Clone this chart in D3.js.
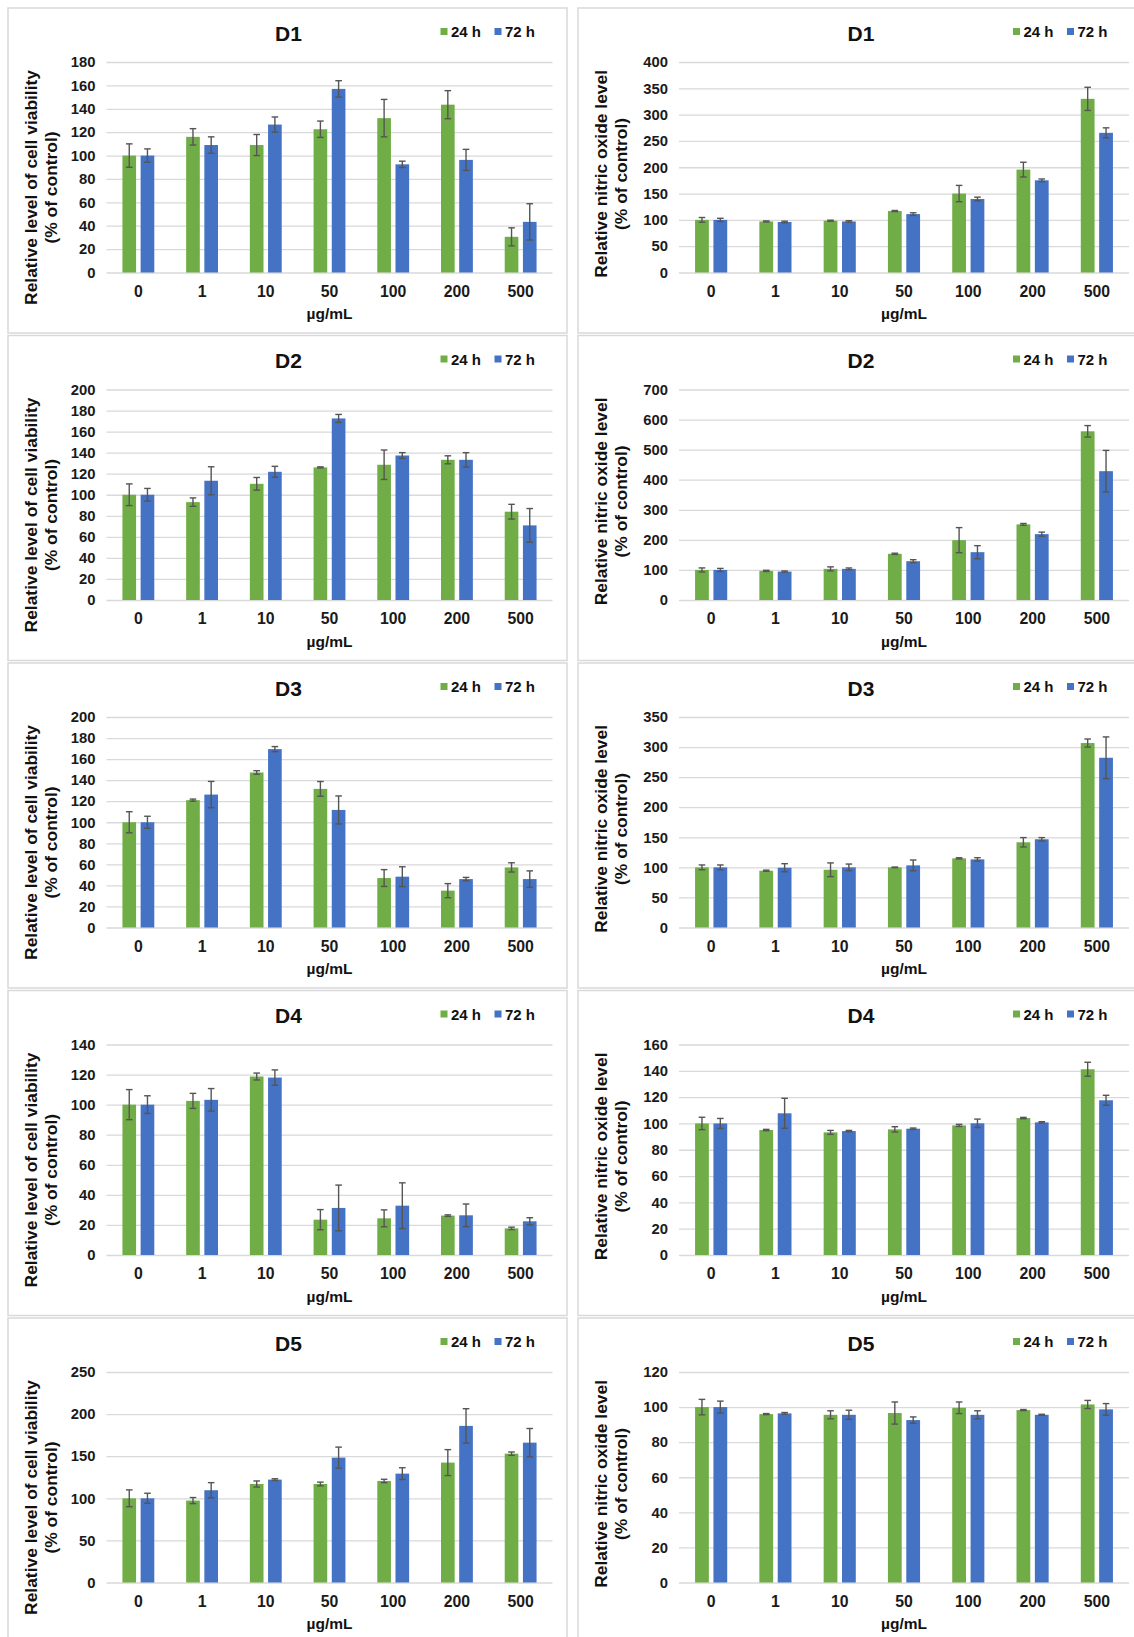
<!DOCTYPE html>
<html>
<head>
<meta charset="utf-8">
<script src="https://cdn.jsdelivr.net/npm/d3@7"></script>
<style>
  body { margin: 0; background: #fff; }
  svg { display: block; font-family: Arial, "Liberation Sans", sans-serif; font-weight: bold; }
</style>
</head>
<body>
<svg id="fig" width="1134" height="1637"></svg>
<script>
// categories & series
const doses = ["0", "1", "10", "50", "100", "200", "500"];
const times = ["24 h", "72 h"];
const colors = ["#70AD47", "#4472C4"];

// cell viability (left column), mean and error
const viabD1_24 = [100, 116, 109, 122.5, 132, 143.5, 30.5];
const viabD1_24err = [10, 7, 9, 7, 16, 12, 7.7];
const viabD1_72 = [100, 109, 126.5, 157, 92.5, 96.3, 43.3];
const viabD1_72err = [5.7, 7, 6.5, 7, 2.7, 9, 15.5];

const viabD2_24 = [100, 93, 110.4, 126, 128.5, 133.2, 83.9];
const viabD2_24err = [10.3, 4, 6, 0.5, 14, 3.8, 7];
const viabD2_72 = [100, 113.3, 121.8, 172.5, 137.3, 133.2, 70.9];
const viabD2_72err = [6, 13.3, 5.2, 3.8, 2.7, 6.8, 16];

const viabD3_24 = [100, 121, 147.3, 131.7, 47, 35, 57.1];
const viabD3_24err = [10, 1, 1.7, 7, 8, 6.7, 4.4];
const viabD3_72 = [100, 126.3, 169.5, 111.7, 48.3, 46, 46];
const viabD3_72err = [5.7, 12.5, 2.4, 13.3, 9.4, 1.6, 7.8];

const viabD4_24 = [100, 102.5, 118.7, 23.5, 24.4, 26.2, 17.7];
const viabD4_24err = [10, 5, 2.3, 6.7, 5.6, 0.5, 0.8];
const viabD4_72 = [100, 103.2, 118, 31.3, 32.8, 26.4, 22.4];
const viabD4_72err = [5.9, 7.5, 5.1, 15.2, 15.2, 7.5, 2.4];

const viabD5_24 = [100, 97.3, 117, 117, 120.6, 142.4, 153];
const viabD5_24err = [10, 3.6, 3.6, 2.2, 2, 15.4, 2];
const viabD5_72 = [100, 109.6, 122.2, 148.3, 129.3, 186, 166.1];
const viabD5_72err = [6, 9, 1, 12.5, 7, 20.4, 16.8];

// nitric oxide (right column), mean and error
const noD1_24 = [100, 97, 98.4, 116.8, 150, 195.5, 330];
const noD1_24err = [4.5, 1, 1, 1, 15.5, 14, 22];
const noD1_72 = [100, 96, 97, 111, 139.7, 175.2, 265.4];
const noD1_72err = [3, 1.5, 1.5, 2.5, 3.5, 2.5, 9.5];

const noD2_24 = [100, 96.8, 103.5, 153.6, 199, 251.5, 561];
const noD2_24err = [6.7, 2, 6.7, 2, 41.7, 3, 19];
const noD2_72 = [100, 94.6, 103.5, 129, 159, 219, 428.4];
const noD2_72err = [5, 2, 3, 5, 21.7, 6.7, 69];

const noD3_24 = [100, 94.4, 96, 100, 115, 141.7, 306.7];
const noD3_24err = [4, 1, 11.4, 0.5, 1, 7.8, 6.7];
const noD3_72 = [100, 99.4, 100, 103.3, 113.3, 146.7, 282.2];
const noD3_72err = [4, 6.7, 5.5, 8.9, 2.8, 2.8, 34.7];

const noD4_24 = [100, 95, 93.2, 95.5, 98.5, 104.1, 141.2];
const noD4_24err = [4.7, 0.5, 1.5, 2, 0.8, 0.5, 5.3];
const noD4_72 = [100, 107.7, 94.2, 96, 100.1, 100.8, 117.6];
const noD4_72err = [3.8, 11.4, 0.5, 0.5, 3.2, 0.5, 3.8];

const noD5_24 = [100, 96, 95.6, 96.6, 99.6, 98.3, 101.5];
const noD5_24err = [4.4, 0.3, 2.3, 6.3, 3.3, 0.3, 2.3];
const noD5_72 = [100, 96.4, 95.6, 92.6, 95.6, 95.6, 98.7];
const noD5_72err = [3.4, 0.5, 2.6, 1.8, 2.3, 0.3, 3.3];

// y axis ranges
const viabMax = [180, 200, 200, 140, 250];
const viabStep = [20, 20, 20, 20, 50];
const noMax = [400, 700, 350, 160, 120];
const noStep = [50, 100, 50, 20, 20];

const titles = ["D1", "D2", "D3", "D4", "D5"];
const viabLabel = ["Relative level of cell viability", "(% of control)"];
const noLabel = ["Relative nitric oxide level", "(% of control)"];
const xLabel = "µg/mL";

const viabMeans = [[viabD1_24, viabD1_72], [viabD2_24, viabD2_72], [viabD3_24, viabD3_72], [viabD4_24, viabD4_72], [viabD5_24, viabD5_72]];
const viabErrs = [[viabD1_24err, viabD1_72err], [viabD2_24err, viabD2_72err], [viabD3_24err, viabD3_72err], [viabD4_24err, viabD4_72err], [viabD5_24err, viabD5_72err]];
const noMeans = [[noD1_24, noD1_72], [noD2_24, noD2_72], [noD3_24, noD3_72], [noD4_24, noD4_72], [noD5_24, noD5_72]];
const noErrs = [[noD1_24err, noD1_72err], [noD2_24err, noD2_72err], [noD3_24err, noD3_72err], [noD4_24err, noD4_72err], [noD5_24err, noD5_72err]];

const panels = [];
titles.forEach((t, i) => {
  panels.push({col: 0, row: i, title: t, label: viabLabel, max: viabMax[i], step: viabStep[i], means: viabMeans[i], errs: viabErrs[i]});
  panels.push({col: 1, row: i, title: t, label: noLabel, max: noMax[i], step: noStep[i], means: noMeans[i], errs: noErrs[i]});
});

// layout
const svg = d3.select("#fig");
const colX = [8, 578], panelW = [559, 565], panelH = 325;
const plotL = [98.5, 101], plotW = [446, 450];
const plotTop = 54, plotBottom = 264.5;
const grid = "#d9d9d9", errColor = "#555";
const font = "Arial, 'Liberation Sans', sans-serif";

panels.forEach(p => {
  const px = colX[p.col], py = 8 + p.row * 327.5;
  const L = plotL[p.col], W = plotW[p.col];
  const g = svg.append("g").attr("transform", `translate(${px},${py})`);

  g.append("rect")
    .attr("x", 0).attr("y", 0)
    .attr("width", panelW[p.col]).attr("height", panelH)
    .attr("fill", "#fff").attr("stroke", grid).attr("stroke-width", 1.5);

  const x0 = d3.scaleBand().domain(doses).range([L, L + W]).paddingInner(0.5).paddingOuter(0.25);
  const x1 = d3.scaleBand().domain(times).range([0, x0.bandwidth()]).paddingInner(0.25);
  const y = d3.scaleLinear().domain([0, p.max]).range([plotBottom, plotTop]);
  const ticks = d3.range(0, p.max + p.step / 2, p.step);

  // y axis with gridlines
  const ya = g.append("g")
    .attr("transform", `translate(${L},0)`)
    .call(d3.axisLeft(y).tickValues(ticks).tickSize(-W).tickPadding(11));
  ya.select(".domain").remove();
  ya.selectAll("line").attr("stroke", grid).attr("stroke-width", 1.3);
  ya.selectAll("text").attr("fill", "#1a1a1a").style("font-size", "14.8px").style("font-weight", "bold")
    .style("font-family", font);

  // x axis
  const xa = g.append("g")
    .attr("transform", `translate(0,${plotBottom})`)
    .call(d3.axisBottom(x0).tickSize(0).tickPadding(13));
  xa.select(".domain").remove();
  xa.selectAll("text").attr("fill", "#1a1a1a").style("font-size", "15.8px").style("font-weight", "bold")
    .style("font-family", font);

  // bars
  times.forEach((t, si) => {
    const rows = doses.map((d, j) => ({dose: d, v: p.means[si][j], e: p.errs[si][j]}));
    g.append("g").selectAll("rect").data(rows).join("rect")
      .attr("x", d => x0(d.dose) + x1(t))
      .attr("y", d => y(d.v))
      .attr("width", x1.bandwidth())
      .attr("height", d => plotBottom - y(d.v))
      .attr("fill", colors[si]);

    // error bars
    const eb = g.append("g").attr("stroke", errColor).attr("stroke-width", 1.4);
    rows.forEach(d => {
      const cx = x0(d.dose) + x1(t) + x1.bandwidth() / 2;
      eb.append("line").attr("x1", cx).attr("x2", cx).attr("y1", y(d.v - d.e)).attr("y2", y(d.v + d.e));
      eb.append("line").attr("x1", cx - 3.3).attr("x2", cx + 3.3).attr("y1", y(d.v - d.e)).attr("y2", y(d.v - d.e));
      eb.append("line").attr("x1", cx - 3.3).attr("x2", cx + 3.3).attr("y1", y(d.v + d.e)).attr("y2", y(d.v + d.e));
    });
  });

  // title
  g.append("text")
    .attr("x", L + 182).attr("y", 32.5)
    .attr("text-anchor", "middle")
    .attr("fill", "#111")
    .style("font-size", "21px")
    .text(p.title);

  // legend
  times.forEach((t, si) => {
    const lx = L + 334 + si * 54;
    g.append("rect").attr("x", lx).attr("y", 20).attr("width", 7).attr("height", 7).attr("fill", colors[si]);
    g.append("text").attr("x", lx + 10.5).attr("y", 29)
      .attr("fill", "#111").style("font-size", "15px").text(t);
  });

  // x axis title
  g.append("text")
    .attr("x", L + W / 2).attr("y", plotBottom + 46.5)
    .attr("text-anchor", "middle")
    .attr("fill", "#111")
    .style("font-size", "15.5px")
    .text(xLabel);

  // y axis title, two lines, top aligned
  const t1 = g.append("text")
    .attr("transform", `translate(29,62) rotate(-90)`)
    .attr("text-anchor", "end")
    .attr("fill", "#111")
    .style("font-size", "17.4px")
    .text(p.label[0]);
  const len = t1.node().getComputedTextLength();
  g.append("text")
    .attr("transform", `translate(49,${62 + len / 2}) rotate(-90)`)
    .attr("text-anchor", "middle")
    .attr("fill", "#111")
    .style("font-size", "17.4px")
    .text(p.label[1]);
});
</script>
</body>
</html>
